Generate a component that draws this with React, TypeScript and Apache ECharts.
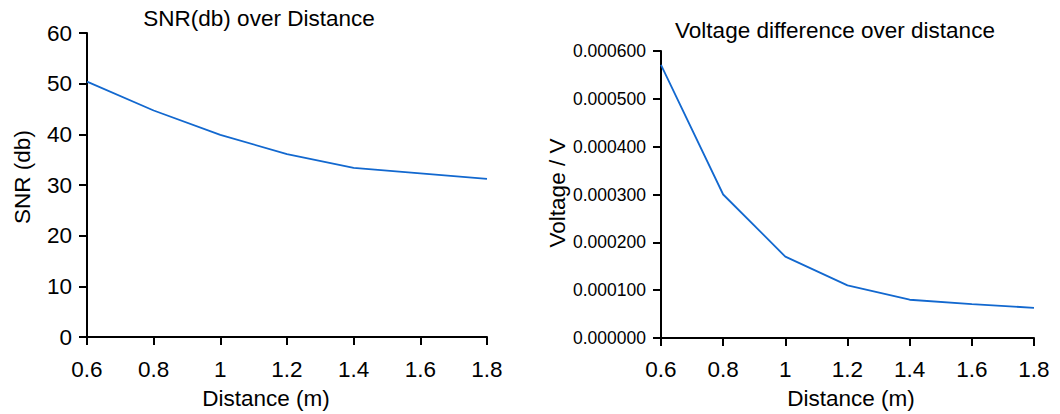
import React, { useEffect, useRef } from "react";
import * as echarts from "echarts";

const distances = [0.6, 0.8, 1.0, 1.2, 1.4, 1.6, 1.8];
const snrDb = [50.4, 44.7, 39.9, 36.1, 33.4, 32.3, 31.2];
const voltage = [0.000571, 0.0003, 0.00017, 0.00011, 0.00008, 0.000071, 0.000063];

const titleSnr = "SNR(db) over Distance";
const titleVolt = "Voltage difference over distance";
const xName = "Distance (m)";
const ySnrName = "SNR (db)";
const yVoltName = "Voltage / V";

const FONT = "'Liberation Sans', Arial, Helvetica, sans-serif";
const LINE_COLOR = "#1268cf";

export default function App() {
  const ref = useRef<HTMLDivElement>(null);
  useEffect(() => {
    document.body.style.margin = "0";
    const chart = echarts.init(ref.current!, null, { renderer: "svg" });
    const axisCommon = {
      axisLine: { show: true, lineStyle: { color: "#000", width: 2 } },
      axisTick: { show: true, inside: false, length: 8, lineStyle: { color: "#000", width: 2 } },
      splitLine: { show: false },
    };
    const xAxisBase = (gridIndex: number, margin: number) => ({
      type: "value",
      gridIndex,
      min: 0.6,
      max: 1.8,
      interval: 0.2,
      ...axisCommon,
      axisLabel: {
        color: "#000",
        fontSize: 22.5,
        fontFamily: FONT,
        margin,
        formatter: (v: number) => String(parseFloat(v.toFixed(1))),
      },
    });
    const txt = (text: string, x: number, y: number, rot = 0) => ({
      type: "text",
      x,
      y,
      rotation: rot,
      style: { text, fill: "#000", font: `22.5px ${FONT}`, align: "center", verticalAlign: "middle" },
    });
    chart.setOption({
      animation: false,
      backgroundColor: "#fff",
      grid: [
        { left: 87, top: 33, width: 400, height: 304, containLabel: false },
        { left: 661, top: 51, width: 373, height: 287, containLabel: false },
      ],
      xAxis: [xAxisBase(0, 21), xAxisBase(1, 20)],
      yAxis: [
        {
          type: "value",
          gridIndex: 0,
          min: 0,
          max: 60,
          interval: 10,
          ...axisCommon,
          axisLabel: { color: "#000", fontSize: 22.5, fontFamily: FONT, margin: 15 },
        },
        {
          type: "value",
          gridIndex: 1,
          min: 0,
          max: 0.0006,
          interval: 0.0001,
          ...axisCommon,
          axisLabel: {
            color: "#000",
            fontSize: 17.5,
            fontFamily: FONT,
            margin: 15,
            formatter: (v: number) => v.toFixed(6),
          },
        },
      ],
      series: [
        {
          type: "line",
          xAxisIndex: 0,
          yAxisIndex: 0,
          data: distances.map((d, i) => [d, snrDb[i]]),
          showSymbol: false,
          lineStyle: { color: LINE_COLOR, width: 1.8 },
        },
        {
          type: "line",
          xAxisIndex: 1,
          yAxisIndex: 1,
          data: distances.map((d, i) => [d, voltage[i]]),
          showSymbol: false,
          lineStyle: { color: LINE_COLOR, width: 1.8 },
        },
      ],
      graphic: [
        txt(titleSnr, 259, 18),
        txt(titleVolt, 835, 30),
        txt(xName, 266, 398),
        txt(xName, 851, 398),
        txt(ySnrName, 22, 177, Math.PI / 2),
        txt(yVoltName, 557, 193, Math.PI / 2),
      ],
    });
    return () => chart.dispose();
  }, []);
  return <div ref={ref} style={{ width: 1060, height: 414 }} />;
}
